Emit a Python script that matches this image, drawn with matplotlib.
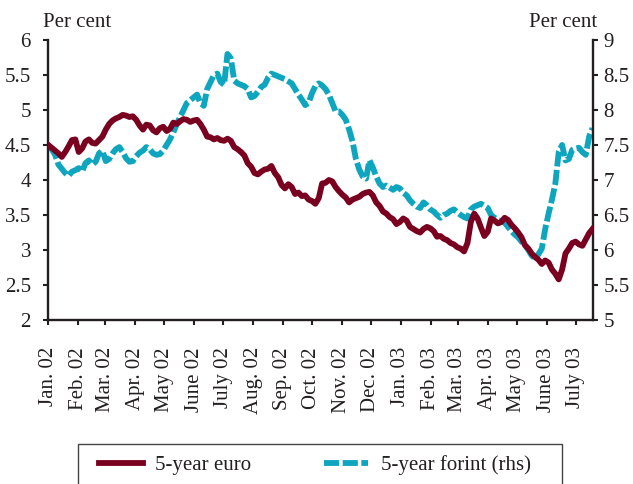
import matplotlib
matplotlib.use("Agg")
import matplotlib.pyplot as plt
from matplotlib.patches import Rectangle
import pandas as pd

plt.rcParams['font.family'] = ['Liberation Serif', 'DejaVu Serif']

# twice-weekly observations, Jan 2002 - Jul 2003
obs_dates = pd.date_range('2002-01-01', periods=162, freq='84h')

euro_5y = [4.50, 4.46, 4.42, 4.38, 4.33, 4.40, 4.48, 4.57, 4.58, 4.40,
           4.45, 4.55, 4.58, 4.53, 4.52, 4.57, 4.62, 4.72, 4.80, 4.85,
           4.88, 4.90, 4.93, 4.92, 4.90, 4.91, 4.86, 4.78, 4.72, 4.79,
           4.78, 4.71, 4.68, 4.74, 4.76, 4.70, 4.73, 4.82, 4.80, 4.84,
           4.87, 4.86, 4.83, 4.85, 4.86, 4.80, 4.72, 4.62, 4.61, 4.58,
           4.60, 4.57, 4.56, 4.59, 4.56, 4.47, 4.44, 4.40, 4.35, 4.24,
           4.19, 4.10, 4.08, 4.12, 4.15, 4.16, 4.20, 4.10, 4.04, 3.93,
           3.88, 3.94, 3.90, 3.80, 3.82, 3.77, 3.78, 3.72, 3.70, 3.66,
           3.74, 3.95, 3.96, 4.00, 3.98, 3.90, 3.84, 3.79, 3.75, 3.68,
           3.72, 3.74, 3.76, 3.80, 3.82, 3.83, 3.78, 3.68, 3.63, 3.55,
           3.52, 3.47, 3.44, 3.37, 3.40, 3.45, 3.42, 3.33, 3.30, 3.27,
           3.25, 3.30, 3.33, 3.31, 3.27, 3.19, 3.20, 3.16, 3.14, 3.10,
           3.08, 3.04, 3.02, 2.98, 3.10, 3.40, 3.52, 3.45, 3.32, 3.20,
           3.26, 3.45, 3.42, 3.38, 3.40, 3.46, 3.43, 3.36, 3.31, 3.25,
           3.18, 3.07, 3.02, 2.95, 2.90, 2.86, 2.80, 2.85, 2.82, 2.72,
           2.66, 2.58, 2.72, 2.95, 3.02, 3.10, 3.12, 3.08, 3.06, 3.15,
           3.24, 3.30]

forint_5y = [7.48, 7.44, 7.36, 7.22, 7.16, 7.10, 7.06, 7.12, 7.14, 7.17,
             7.12, 7.24, 7.28, 7.22, 7.26, 7.38, 7.42, 7.27, 7.30, 7.38,
             7.44, 7.47, 7.40, 7.31, 7.26, 7.27, 7.34, 7.39, 7.42, 7.47,
             7.44, 7.38, 7.36, 7.37, 7.42, 7.50, 7.58, 7.68, 7.80, 7.90,
             8.00, 8.10, 8.14, 8.18, 8.22, 8.10, 8.06, 8.30, 8.40, 8.50,
             8.52, 8.40, 8.36, 8.80, 8.74, 8.42, 8.38, 8.36, 8.34, 8.30,
             8.18, 8.20, 8.26, 8.33, 8.36, 8.46, 8.52, 8.50, 8.48, 8.46,
             8.44, 8.41, 8.38, 8.30, 8.22, 8.15, 8.07, 8.10, 8.24, 8.34,
             8.38, 8.35, 8.30, 8.22, 8.10, 7.98, 7.98, 7.93, 7.86, 7.72,
             7.55, 7.30, 7.15, 7.05, 7.02, 7.28, 7.18, 7.05, 6.95, 6.90,
             6.92, 6.89, 6.86, 6.90, 6.88, 6.82, 6.78, 6.71, 6.66, 6.62,
             6.60, 6.68, 6.64, 6.58, 6.55, 6.50, 6.46, 6.50, 6.52, 6.56,
             6.58, 6.54, 6.50, 6.47, 6.45, 6.58, 6.62, 6.64, 6.66, 6.63,
             6.60, 6.50, 6.46, 6.43, 6.41, 6.39, 6.33, 6.27, 6.22, 6.18,
             6.12, 6.07, 6.00, 5.92, 5.88, 5.94, 6.02, 6.30, 6.52, 6.72,
             6.95, 7.40, 7.50, 7.28, 7.30, 7.43, 7.45, 7.46, 7.40, 7.36,
             7.62, 7.74]

month_labels = ['Jan. 02', 'Feb. 02', 'Mar. 02', 'Apr. 02', 'May 02', 'June 02',
                'July 02', 'Aug. 02', 'Sep. 02', 'Oct. 02', 'Nov. 02', 'Dec. 02',
                'Jan. 03', 'Feb. 03', 'Mar. 03', 'Apr. 03', 'May 03', 'June 03',
                'July 03']
left_ticks = [2, 2.5, 3, 3.5, 4, 4.5, 5, 5.5, 6]
right_ticks = [5, 5.5, 6, 6.5, 7, 7.5, 8, 8.5, 9]

EURO_COL = '#7a0020'
HUF_COL = '#0ea5bf'
INK = '#231f20'
FS = 15

fig = plt.figure(figsize=(6.33, 4.84), dpi=100)
ax = fig.add_axes([48.3 / 633, 1 - 320 / 484, (593 - 48.3) / 633, 280 / 484])
ax2 = ax.twinx()

l1, = ax.plot(obs_dates, euro_5y, color=EURO_COL, lw=4.2,
              label='5-year euro', zorder=3)
l2, = ax2.plot(obs_dates, forint_5y, color=HUF_COL, lw=4.2, dashes=(2.6, 0.6),
               label='5-year forint (rhs)')
ax.set_zorder(ax2.get_zorder() + 1)
ax.patch.set_visible(False)

ax.set_xlim(pd.Timestamp('2002-01-01'), pd.Timestamp('2003-07-19'))
ax.set_ylim(2, 6)
ax2.set_ylim(5, 9)

month_ticks = pd.date_range('2002-01-01', '2003-07-01', freq='MS')
ax.set_xticks(month_ticks)
ax.set_xticklabels(month_labels, rotation=90, fontsize=FS, color=INK)
ax.set_yticks(left_ticks)
ax.set_yticklabels(['%g' % v for v in left_ticks], fontsize=FS, color=INK)
ax2.set_yticks(right_ticks)
ax2.set_yticklabels(['%g' % v for v in right_ticks], fontsize=FS, color=INK)

for a in (ax, ax2):
    a.spines['top'].set_visible(False)
    for s in a.spines.values():
        s.set_linewidth(1.7)
        s.set_color(INK)
ax.spines['right'].set_visible(False)
ax2.spines['left'].set_visible(False)
ax2.spines['bottom'].set_visible(False)

ax.tick_params(axis='x', direction='out', length=3.5, width=1.5, color=INK, pad=16)
ax.tick_params(axis='y', direction='out', length=3.5, width=1.5, color=INK, pad=9)
ax2.tick_params(axis='y', direction='out', length=3.5, width=1.5, color=INK, pad=4)

fig.text(43 / 633, 1 - 27 / 484, 'Per cent', fontsize=FS, color=INK,
         ha='left', va='baseline')
fig.text(597 / 633, 1 - 27 / 484, 'Per cent', fontsize=FS, color=INK,
         ha='right', va='baseline')

# legend box at the bottom, running off the lower edge
fig.patches.append(Rectangle((78 / 633, -0.01), (562 - 78) / 633, 0.01 + 40 / 484,
                             transform=fig.transFigure, fill=False,
                             edgecolor='#444444', lw=1.0))
fig.legend(handles=[l1, l2], loc='center left',
           bbox_to_anchor=(99 / 633, 1 - 465 / 484), ncol=2, frameon=False,
           fontsize=FS, handlelength=2.1, handletextpad=0.6,
           columnspacing=3.5, borderpad=0, borderaxespad=0, labelcolor=INK)

fig.savefig('out.png', dpi=100)
